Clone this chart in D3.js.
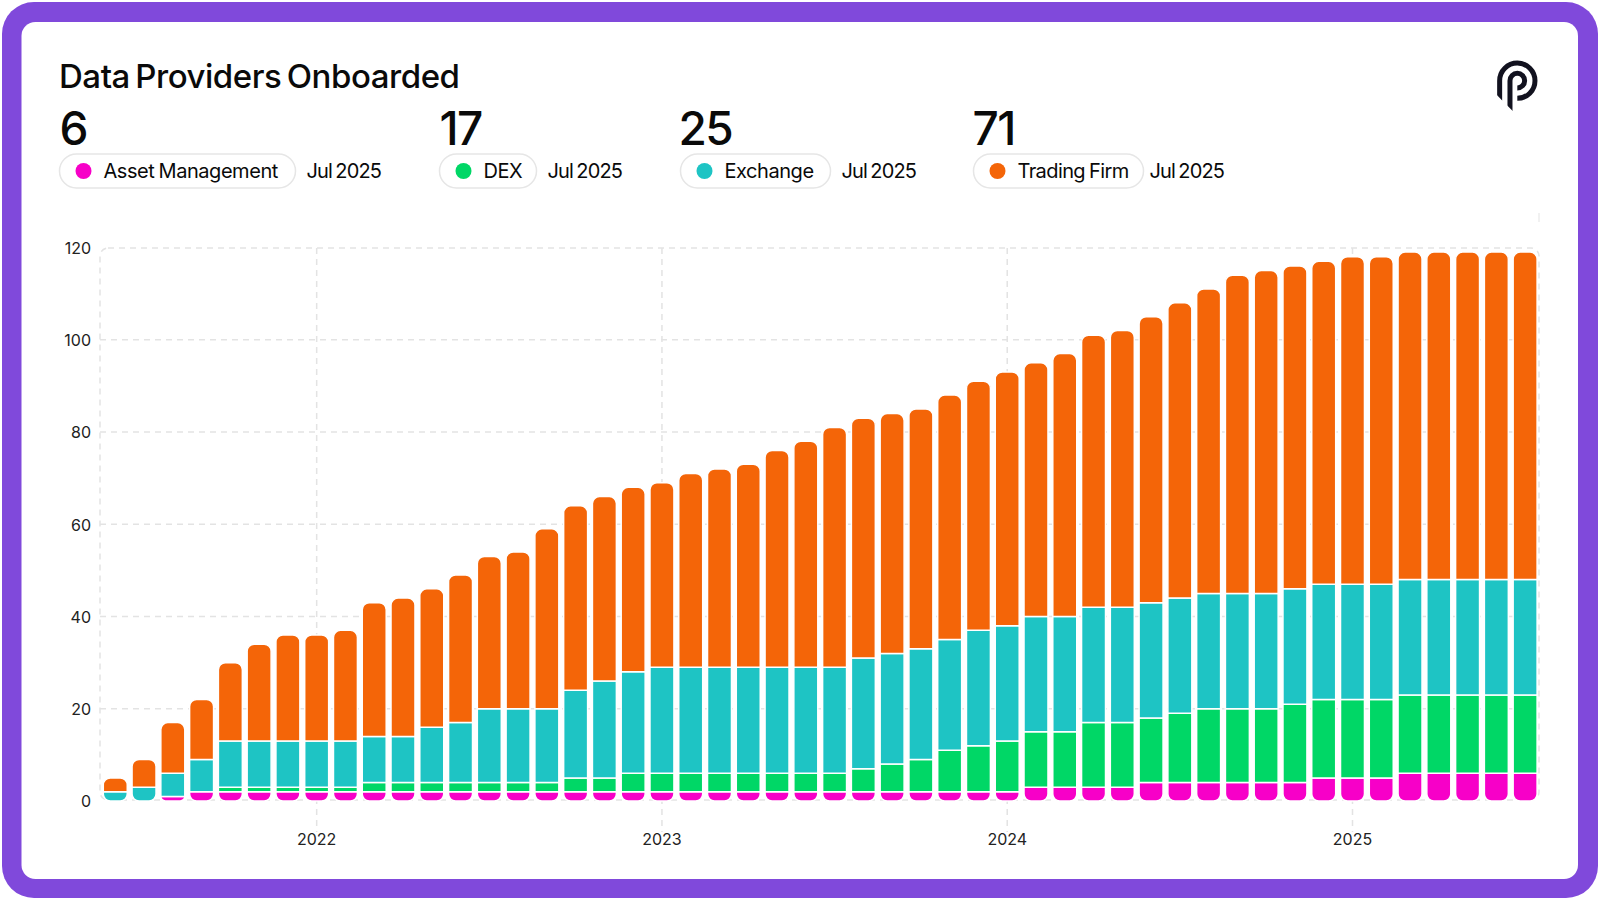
<!DOCTYPE html>
<html>
<head>
<meta charset="utf-8">
<script src="https://d3js.org/d3.v7.min.js"></script>
<style>
  body { margin: 0; background: #fff; }
  text { font-family: Inter, sans-serif; fill: #0a0a0a; }
</style>
</head>
<body>
<div id="chart"></div>
<script>
const months = [
  "2021-06","2021-07","2021-08","2021-09","2021-10","2021-11","2021-12",
  "2022-01","2022-02","2022-03","2022-04","2022-05","2022-06","2022-07","2022-08","2022-09","2022-10","2022-11","2022-12",
  "2023-01","2023-02","2023-03","2023-04","2023-05","2023-06","2023-07","2023-08","2023-09","2023-10","2023-11","2023-12",
  "2024-01","2024-02","2024-03","2024-04","2024-05","2024-06","2024-07","2024-08","2024-09","2024-10","2024-11","2024-12",
  "2025-01","2025-02","2025-03","2025-04","2025-05","2025-06","2025-07"
];
const assetManagement = [0,0,1,2,2,2,2, 2,2,2,2,2,2,2,2,2,2,2,2, 2,2,2,2,2,2,2,2,2,2,2,2, 2,3,3,3,3,4,4,4,4,4,4,5, 5,5,6,6,6,6,6];
const dex = [0,0,0,0,1,1,1, 1,1,2,2,2,2,2,2,2,3,3,4, 4,4,4,4,4,4,4,5,6,7,9,10, 11,12,12,14,14,14,15,16,16,16,17,17, 17,17,17,17,17,17,17];
const exchange = [2,3,5,7,10,10,10, 10,10,10,10,12,13,16,16,16,19,21,22, 23,23,23,23,23,23,23,24,24,24,24,25, 25,25,25,25,25,25,25,25,25,25,25,25, 25,25,25,25,25,25,25];
const tradingFirm = [3,6,11,13,17,21,23, 23,24,29,30,30,32,33,34,39,40,40,40, 40,42,43,44,47,49,52,52,52,52,53,54, 55,55,57,59,60,62,64,66,69,70,70,70, 71,71,71,71,71,71,71];

const seriesNames = ["Asset Management","DEX","Exchange","Trading Firm"];
const seriesColors = ["#f700c8","#00d766","#1ec4c4","#f46508"];
const latestValues = [6,17,25,71];
const latestLabel = "Jul 2025";
const yTicks = [0,20,40,60,80,100,120];
const yearTicks = ["2022-01","2023-01","2024-01","2025-01"];

const width = 1600, height = 900;
const plot = {left: 100, right: 1539, top: 248, bottom: 800};

const svg = d3.select("#chart").append("svg")
  .attr("width", width).attr("height", height)
  .style("display", "block");

// purple frame + white card
svg.append("rect").attr("x", 2).attr("y", 2).attr("width", 1596).attr("height", 896).attr("rx", 32).attr("fill", "#8049db");
svg.append("rect").attr("x", 21.5).attr("y", 22).attr("width", 1556.5).attr("height", 857).attr("rx", 14).attr("fill", "#fff");

svg.append("text").attr("x", 59).attr("y", 88)
  .attr("font-size", 33).attr("font-weight", 500).attr("letter-spacing", -0.45).attr("word-spacing", -3)
  .text("Data Providers Onboarded");

// kpi row
const kpiX = [59.5, 439.5, 680.5, 973.5];
const kpiNudge = [0, 0, -2, -1];
const pillW = [236, 97, 150, 170];
const kpi = svg.append("g").selectAll("g").data(seriesNames).join("g")
  .attr("transform", (d, i) => `translate(${kpiX[i]},0)`);
kpi.append("text").attr("x", (d, i) => kpiNudge[i]).attr("y", 145)
  .attr("font-size", 46).attr("font-weight", 500).attr("letter-spacing", -1.5)
  .text((d, i) => latestValues[i]);
kpi.append("rect").attr("y", 154).attr("height", 34).attr("rx", 17)
  .attr("width", (d, i) => pillW[i])
  .attr("fill", "#fff").attr("stroke", "#e6e6e6").attr("stroke-width", 1.5);
kpi.append("circle").attr("cx", 24).attr("cy", 171).attr("r", 8)
  .attr("fill", (d, i) => seriesColors[i]);
kpi.append("text").attr("x", 44).attr("y", 178)
  .attr("font-size", 20).attr("letter-spacing", (d, i) => i == 3 ? -0.6 : -0.45).attr("word-spacing", -1).text(d => d);
kpi.append("text").attr("x", (d, i) => pillW[i] + (i == 3 ? 6 : 11)).attr("y", 178)
  .attr("font-size", 20).attr("letter-spacing", -0.85).attr("word-spacing", -1.5).text(latestLabel);

// logo
const logo = svg.append("g").attr("transform", "translate(1300,0) scale(0.3333)");
const logoLines = logo.append("g").attr("fill", "none").attr("stroke", "#12121f").attr("stroke-width", 15);
logoLines.append("path").attr("d", "M599,302 V242 A53,53 0 1 1 652,295");
logoLines.append("path").attr("d", "M630,333 V242 A22,22 0 1 1 652,264");
logo.append("path").attr("fill", "#fff").attr("d", "M590,284 L608,303 H590 Z M621,316 L639,334 H621 Z");

// scales
const x = d3.scaleBand().domain(months).range([plot.left + 0.7, plot.right + 0.7])
  .paddingInner(0.167).paddingOuter(0.09);
const y = d3.scaleLinear().domain([0, 120]).range([plot.bottom + 1, plot.top - 0.5]);

// grid
const gridStyle = s => s.attr("fill", "none").attr("stroke", "#e3e3e3")
  .attr("stroke-width", 1.5).attr("stroke-dasharray", "6,5");
gridStyle(svg.append("g").selectAll("line").data(yTicks.slice(1, -1)).join("line")
  .attr("x1", plot.left).attr("x2", plot.right)
  .attr("y1", d => y(d)).attr("y2", d => y(d)));
gridStyle(svg.append("g").selectAll("line").data(yearTicks).join("line")
  .attr("x1", d => x(d) + x.bandwidth() / 2).attr("x2", d => x(d) + x.bandwidth() / 2)
  .attr("y1", plot.top).attr("y2", 832));
gridStyle(svg.append("rect").attr("x", plot.left).attr("y", plot.top)
  .attr("width", plot.right - plot.left).attr("height", plot.bottom - plot.top).attr("rx", 8));
svg.append("line").attr("x1", plot.right).attr("x2", plot.right).attr("y1", 213).attr("y2", 222)
  .attr("stroke", "#ececec").attr("stroke-width", 1.5);

// axes, labels only
const yAxis = svg.append("g").attr("transform", `translate(${plot.left},0.7)`)
  .call(d3.axisLeft(y).tickValues(yTicks).tickSize(0).tickPadding(9));
const xAxis = svg.append("g").attr("transform", `translate(0,${plot.bottom})`)
  .call(d3.axisBottom(x).tickValues(yearTicks).tickSize(0).tickPadding(34).tickFormat(d => d.slice(0, 4)));
[yAxis, xAxis].forEach(a => {
  a.select(".domain").remove();
  a.selectAll("text").style("font-family", "Inter, sans-serif").style("font-size", "16px").style("fill", "#222");
});

// bars
const rows = months.map((m, i) => ({
  month: m,
  "Asset Management": assetManagement[i],
  "DEX": dex[i],
  "Exchange": exchange[i],
  "Trading Firm": tradingFirm[i]
}));
const stacked = d3.stack().keys(seriesNames)(rows);
const radius = 7;

function segment(x0, w, yTop, yBot, roundTop, roundBot) {
  const p = d3.path();
  const r = Math.min(radius, yBot - yTop);
  const rt = roundTop ? r : 0, rb = roundBot ? r : 0;
  p.moveTo(x0, yTop + rt);
  if (rt) p.arcTo(x0, yTop, x0 + rt, yTop, rt);
  p.lineTo(x0 + w - rt, yTop);
  if (rt) p.arcTo(x0 + w, yTop, x0 + w, yTop + rt, rt);
  p.lineTo(x0 + w, yBot - rb);
  if (rb) p.arcTo(x0 + w, yBot, x0 + w - rb, yBot, rb);
  p.lineTo(x0 + rb, yBot);
  if (rb) p.arcTo(x0, yBot, x0, yBot - rb, rb);
  p.closePath();
  return p.toString();
}

svg.append("g").selectAll("g").data(stacked).join("g")
  .attr("fill", (d, i) => seriesColors[i])
  .selectAll("path")
  .data(d => d.filter(v => v[1] > v[0]).map(v => ({v, key: d.key})))
  .join("path")
  .attr("stroke", "#fff").attr("stroke-width", 1.5)
  .attr("d", ({v, key}) => segment(
    x(v.data.month), x.bandwidth(), y(v[1]), y(v[0]),
    key === "Trading Firm",
    v[0] === 0));
</script>
</body>
</html>
